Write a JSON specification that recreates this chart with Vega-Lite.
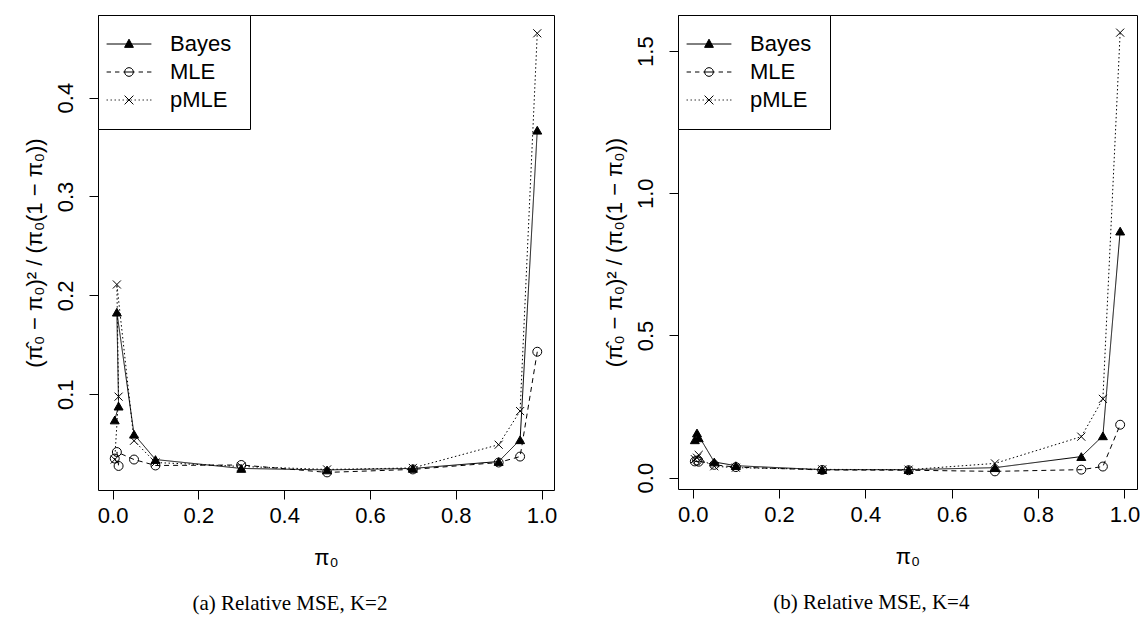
{
  "$schema": "https://vega.github.io/schema/vega-lite/v6.json",
  "padding": {"left": 22, "top": 14, "right": 2, "bottom": 5},
  "background": "white",
  "datasets": {
    "d": [
      {"panel": "a", "method": "Bayes", "i": 1, "pi0": 0.005, "v": 0.074},
      {"panel": "a", "method": "Bayes", "i": 2, "pi0": 0.014, "v": 0.088},
      {"panel": "a", "method": "Bayes", "i": 3, "pi0": 0.01, "v": 0.183},
      {"panel": "a", "method": "Bayes", "i": 4, "pi0": 0.05, "v": 0.0596},
      {"panel": "a", "method": "Bayes", "i": 5, "pi0": 0.1, "v": 0.034},
      {"panel": "a", "method": "Bayes", "i": 6, "pi0": 0.3, "v": 0.025},
      {"panel": "a", "method": "Bayes", "i": 7, "pi0": 0.5, "v": 0.0235},
      {"panel": "a", "method": "Bayes", "i": 8, "pi0": 0.7, "v": 0.025},
      {"panel": "a", "method": "Bayes", "i": 9, "pi0": 0.9, "v": 0.032},
      {"panel": "a", "method": "Bayes", "i": 10, "pi0": 0.95, "v": 0.054},
      {"panel": "a", "method": "Bayes", "i": 11, "pi0": 0.99, "v": 0.367},
      {"panel": "a", "method": "MLE", "i": 1, "pi0": 0.005, "v": 0.035},
      {"panel": "a", "method": "MLE", "i": 2, "pi0": 0.014, "v": 0.0275},
      {"panel": "a", "method": "MLE", "i": 3, "pi0": 0.01, "v": 0.0416},
      {"panel": "a", "method": "MLE", "i": 4, "pi0": 0.05, "v": 0.034},
      {"panel": "a", "method": "MLE", "i": 5, "pi0": 0.1, "v": 0.028},
      {"panel": "a", "method": "MLE", "i": 6, "pi0": 0.3, "v": 0.0285},
      {"panel": "a", "method": "MLE", "i": 7, "pi0": 0.5, "v": 0.021},
      {"panel": "a", "method": "MLE", "i": 8, "pi0": 0.7, "v": 0.024},
      {"panel": "a", "method": "MLE", "i": 9, "pi0": 0.9, "v": 0.031},
      {"panel": "a", "method": "MLE", "i": 10, "pi0": 0.95, "v": 0.037},
      {"panel": "a", "method": "MLE", "i": 11, "pi0": 0.99, "v": 0.143},
      {"panel": "a", "method": "pMLE", "i": 1, "pi0": 0.005, "v": 0.034},
      {"panel": "a", "method": "pMLE", "i": 2, "pi0": 0.014, "v": 0.0976},
      {"panel": "a", "method": "pMLE", "i": 3, "pi0": 0.01, "v": 0.211},
      {"panel": "a", "method": "pMLE", "i": 4, "pi0": 0.05, "v": 0.053},
      {"panel": "a", "method": "pMLE", "i": 5, "pi0": 0.1, "v": 0.031},
      {"panel": "a", "method": "pMLE", "i": 6, "pi0": 0.3, "v": 0.027},
      {"panel": "a", "method": "pMLE", "i": 7, "pi0": 0.5, "v": 0.024},
      {"panel": "a", "method": "pMLE", "i": 8, "pi0": 0.7, "v": 0.0255},
      {"panel": "a", "method": "pMLE", "i": 9, "pi0": 0.9, "v": 0.049},
      {"panel": "a", "method": "pMLE", "i": 10, "pi0": 0.95, "v": 0.083},
      {"panel": "a", "method": "pMLE", "i": 11, "pi0": 0.99, "v": 0.465},
      {"panel": "b", "method": "Bayes", "i": 1, "pi0": 0.005, "v": 0.133},
      {"panel": "b", "method": "Bayes", "i": 2, "pi0": 0.014, "v": 0.14},
      {"panel": "b", "method": "Bayes", "i": 3, "pi0": 0.01, "v": 0.157},
      {"panel": "b", "method": "Bayes", "i": 4, "pi0": 0.05, "v": 0.055},
      {"panel": "b", "method": "Bayes", "i": 5, "pi0": 0.1, "v": 0.042},
      {"panel": "b", "method": "Bayes", "i": 6, "pi0": 0.3, "v": 0.028},
      {"panel": "b", "method": "Bayes", "i": 7, "pi0": 0.5, "v": 0.028},
      {"panel": "b", "method": "Bayes", "i": 8, "pi0": 0.7, "v": 0.035},
      {"panel": "b", "method": "Bayes", "i": 9, "pi0": 0.9, "v": 0.074},
      {"panel": "b", "method": "Bayes", "i": 10, "pi0": 0.95, "v": 0.147},
      {"panel": "b", "method": "Bayes", "i": 11, "pi0": 0.99, "v": 0.867},
      {"panel": "b", "method": "MLE", "i": 1, "pi0": 0.005, "v": 0.057},
      {"panel": "b", "method": "MLE", "i": 2, "pi0": 0.014, "v": 0.056},
      {"panel": "b", "method": "MLE", "i": 3, "pi0": 0.01, "v": 0.06},
      {"panel": "b", "method": "MLE", "i": 4, "pi0": 0.05, "v": 0.045},
      {"panel": "b", "method": "MLE", "i": 5, "pi0": 0.1, "v": 0.037},
      {"panel": "b", "method": "MLE", "i": 6, "pi0": 0.3, "v": 0.027},
      {"panel": "b", "method": "MLE", "i": 7, "pi0": 0.5, "v": 0.026},
      {"panel": "b", "method": "MLE", "i": 8, "pi0": 0.7, "v": 0.022},
      {"panel": "b", "method": "MLE", "i": 9, "pi0": 0.9, "v": 0.028},
      {"panel": "b", "method": "MLE", "i": 10, "pi0": 0.95, "v": 0.039},
      {"panel": "b", "method": "MLE", "i": 11, "pi0": 0.99, "v": 0.186},
      {"panel": "b", "method": "pMLE", "i": 1, "pi0": 0.005, "v": 0.065},
      {"panel": "b", "method": "pMLE", "i": 2, "pi0": 0.014, "v": 0.08},
      {"panel": "b", "method": "pMLE", "i": 3, "pi0": 0.01, "v": 0.07},
      {"panel": "b", "method": "pMLE", "i": 4, "pi0": 0.05, "v": 0.04},
      {"panel": "b", "method": "pMLE", "i": 5, "pi0": 0.1, "v": 0.035},
      {"panel": "b", "method": "pMLE", "i": 6, "pi0": 0.3, "v": 0.029},
      {"panel": "b", "method": "pMLE", "i": 7, "pi0": 0.5, "v": 0.028},
      {"panel": "b", "method": "pMLE", "i": 8, "pi0": 0.7, "v": 0.05},
      {"panel": "b", "method": "pMLE", "i": 9, "pi0": 0.9, "v": 0.144},
      {"panel": "b", "method": "pMLE", "i": 10, "pi0": 0.95, "v": 0.277},
      {"panel": "b", "method": "pMLE", "i": 11, "pi0": 0.99, "v": 1.565}
    ]
  },
  "config": {
    "view": {"stroke": "black", "strokeWidth": 1},
    "font": "Liberation Sans",
    "axis": {
      "grid": false, "domain": false, "tickColor": "black", "tickSize": 9, "tickWidth": 1,
      "labelFont": "Liberation Sans", "labelFontSize": 22, "labelColor": "black",
      "titleFont": "Liberation Sans", "titleFontSize": 22, "titleFontWeight": "normal", "titleColor": "black"
    },
    "legend": {
      "orient": "top-left", "offset": 0, "padding": 18, "rowPadding": 6,
      "strokeColor": "black", "fillColor": "white",
      "labelFont": "Liberation Sans", "labelFontSize": 22, "labelColor": "black", "labelOffset": 30,
      "symbolSize": 256, "symbolOffset": 2, "symbolStrokeColor": "black", "symbolStrokeWidth": 1, "symbolOpacity": 1
    },
    "title": {"font": "Liberation Serif", "fontSize": 21, "fontWeight": "normal", "color": "black"}
  },
  "spacing": 44,
  "resolve": {
    "scale": {"shape": "independent", "fill": "independent", "stroke": "independent", "strokeDash": "independent"},
    "legend": {"shape": "independent", "fill": "independent", "stroke": "independent", "strokeDash": "independent"}
  },
  "hconcat": [
    {
      "width": 456, "height": 475,
      "data": {"name": "d"},
      "title": {"text": "(a) Relative MSE, K=2", "orient": "bottom", "frame": "bounds", "anchor": "middle", "offset": 25},
      "transform": [{"filter": "datum.panel == 'a'"}],
      "encoding": {
        "x": {"field": "pi0", "type": "quantitative",
          "scale": {"domain": [-0.034, 1.029], "nice": false, "zero": false},
          "axis": {"values": [0, 0.2, 0.4, 0.6, 0.8, 1], "format": ".1f", "title": "π₀", "labelPadding": 6, "titlePadding": 21}},
        "y": {"field": "v", "type": "quantitative",
          "scale": {"domain": [0.0032, 0.4835], "nice": false, "zero": false},
          "axis": {"values": [0.1, 0.2, 0.3, 0.4], "format": ".1f", "labelAngle": -90, "labelAlign": "center", "labelBaseline": "bottom", "labelPadding": 12, "title": "(π̂₀ − π₀)² / (π₀(1 − π₀))", "titlePadding": 8}}
      },
      "resolve": {
        "scale": {"shape": "independent", "fill": "independent", "stroke": "independent"},
        "legend": {"shape": "independent", "fill": "independent", "stroke": "independent"}
      },
      "layer": [
        {
          "mark": {"type": "line", "color": "black", "strokeWidth": 1},
          "encoding": {
            "strokeDash": {"field": "method", "type": "nominal", "scale": {"domain": ["Bayes", "MLE", "pMLE"], "range": [[1, 0], [5, 4], [1.5, 2.5]]}, "legend": null},
            "order": {"field": "i", "type": "quantitative"}
          }
        },
        {
          "mark": {"type": "point", "filled": false, "stroke": "black", "strokeWidth": 1, "size": 80, "opacity": 1},
          "encoding": {
            "fill": {"field": "method", "type": "nominal", "scale": {"domain": ["Bayes", "MLE", "pMLE"], "range": ["black", "transparent", "transparent"]}, "legend": null},
            "shape": {"field": "method", "type": "nominal", "scale": {"domain": ["Bayes", "MLE", "pMLE"], "range": ["triangle-up", "circle", "M-0.9,-0.9L0.9,0.9M-0.9,0.9L0.9,-0.9"]}, "legend": null}
          }
        },
        {
          "transform": [{"filter": "datum.i == 0"}],
          "mark": {"type": "point", "filled": false, "strokeWidth": 1, "opacity": 1},
          "encoding": {
            "fill": {"field": "method", "type": "nominal", "scale": {"domain": ["Bayes", "MLE", "pMLE"], "range": ["black", "transparent", "transparent"]}, "legend": {"title": null}},
            "stroke": {"field": "method", "type": "nominal", "scale": {"domain": ["Bayes", "MLE", "pMLE"], "range": ["black", "black", "black"]}, "legend": {"title": null}},
            "shape": {"field": "method", "type": "nominal",
              "scale": {"domain": ["Bayes", "MLE", "pMLE"], "range": [
                "M-2.8,0H2.8M0,-0.6L0.55,0.42L-0.55,0.42Z",
                "M-2.8,0H-2.25M-1.75,0H-1.2M-0.7,0H0.7M1.2,0H1.75M2.25,0H2.8M0.55,0L0.476,0.275L0.275,0.476L0,0.55L-0.275,0.476L-0.476,0.275L-0.55,0L-0.476,-0.275L-0.275,-0.476L0,-0.55L0.275,-0.476L0.476,-0.275Z",
                "M-2.8,0H-2.65M-2.3,0H-2.15M-1.8,0H-1.65M-1.3,0H-1.15M-0.8,0H-0.65M-0.3,0H-0.15M0.2,0H0.35M0.7,0H0.85M1.2,0H1.35M1.7,0H1.85M2.2,0H2.35M2.65,0H2.8M-0.55,-0.55L0.55,0.55M-0.55,0.55L0.55,-0.55"]},
              "legend": {"title": null}}
          }
        }
      ]
    },
    {
      "width": 459, "height": 474,
      "data": {"name": "d"},
      "title": {"text": "(b) Relative MSE, K=4", "orient": "bottom", "frame": "bounds", "anchor": "middle", "offset": 25},
      "transform": [{"filter": "datum.panel == 'b'"}],
      "encoding": {
        "x": {"field": "pi0", "type": "quantitative",
          "scale": {"domain": [-0.034, 1.029], "nice": false, "zero": false},
          "axis": {"values": [0, 0.2, 0.4, 0.6, 0.8, 1], "format": ".1f", "title": "π₀", "labelPadding": 6, "titlePadding": 21}},
        "y": {"field": "v", "type": "quantitative",
          "scale": {"domain": [-0.04, 1.627], "nice": false, "zero": false},
          "axis": {"values": [0, 0.5, 1, 1.5], "format": ".1f", "labelAngle": -90, "labelAlign": "center", "labelBaseline": "bottom", "labelPadding": 12, "title": "(π̂₀ − π₀)² / (π₀(1 − π₀))", "titlePadding": 8}}
      },
      "resolve": {
        "scale": {"shape": "independent", "fill": "independent", "stroke": "independent"},
        "legend": {"shape": "independent", "fill": "independent", "stroke": "independent"}
      },
      "layer": [
        {
          "mark": {"type": "line", "color": "black", "strokeWidth": 1},
          "encoding": {
            "strokeDash": {"field": "method", "type": "nominal", "scale": {"domain": ["Bayes", "MLE", "pMLE"], "range": [[1, 0], [5, 4], [1.5, 2.5]]}, "legend": null},
            "order": {"field": "i", "type": "quantitative"}
          }
        },
        {
          "mark": {"type": "point", "filled": false, "stroke": "black", "strokeWidth": 1, "size": 80, "opacity": 1},
          "encoding": {
            "fill": {"field": "method", "type": "nominal", "scale": {"domain": ["Bayes", "MLE", "pMLE"], "range": ["black", "transparent", "transparent"]}, "legend": null},
            "shape": {"field": "method", "type": "nominal", "scale": {"domain": ["Bayes", "MLE", "pMLE"], "range": ["triangle-up", "circle", "M-0.9,-0.9L0.9,0.9M-0.9,0.9L0.9,-0.9"]}, "legend": null}
          }
        },
        {
          "transform": [{"filter": "datum.i == 0"}],
          "mark": {"type": "point", "filled": false, "strokeWidth": 1, "opacity": 1},
          "encoding": {
            "fill": {"field": "method", "type": "nominal", "scale": {"domain": ["Bayes", "MLE", "pMLE"], "range": ["black", "transparent", "transparent"]}, "legend": {"title": null}},
            "stroke": {"field": "method", "type": "nominal", "scale": {"domain": ["Bayes", "MLE", "pMLE"], "range": ["black", "black", "black"]}, "legend": {"title": null}},
            "shape": {"field": "method", "type": "nominal",
              "scale": {"domain": ["Bayes", "MLE", "pMLE"], "range": [
                "M-2.8,0H2.8M0,-0.6L0.55,0.42L-0.55,0.42Z",
                "M-2.8,0H-2.25M-1.75,0H-1.2M-0.7,0H0.7M1.2,0H1.75M2.25,0H2.8M0.55,0L0.476,0.275L0.275,0.476L0,0.55L-0.275,0.476L-0.476,0.275L-0.55,0L-0.476,-0.275L-0.275,-0.476L0,-0.55L0.275,-0.476L0.476,-0.275Z",
                "M-2.8,0H-2.65M-2.3,0H-2.15M-1.8,0H-1.65M-1.3,0H-1.15M-0.8,0H-0.65M-0.3,0H-0.15M0.2,0H0.35M0.7,0H0.85M1.2,0H1.35M1.7,0H1.85M2.2,0H2.35M2.65,0H2.8M-0.55,-0.55L0.55,0.55M-0.55,0.55L0.55,-0.55"]},
              "legend": {"title": null}}
          }
        }
      ]
    }
  ]
}
